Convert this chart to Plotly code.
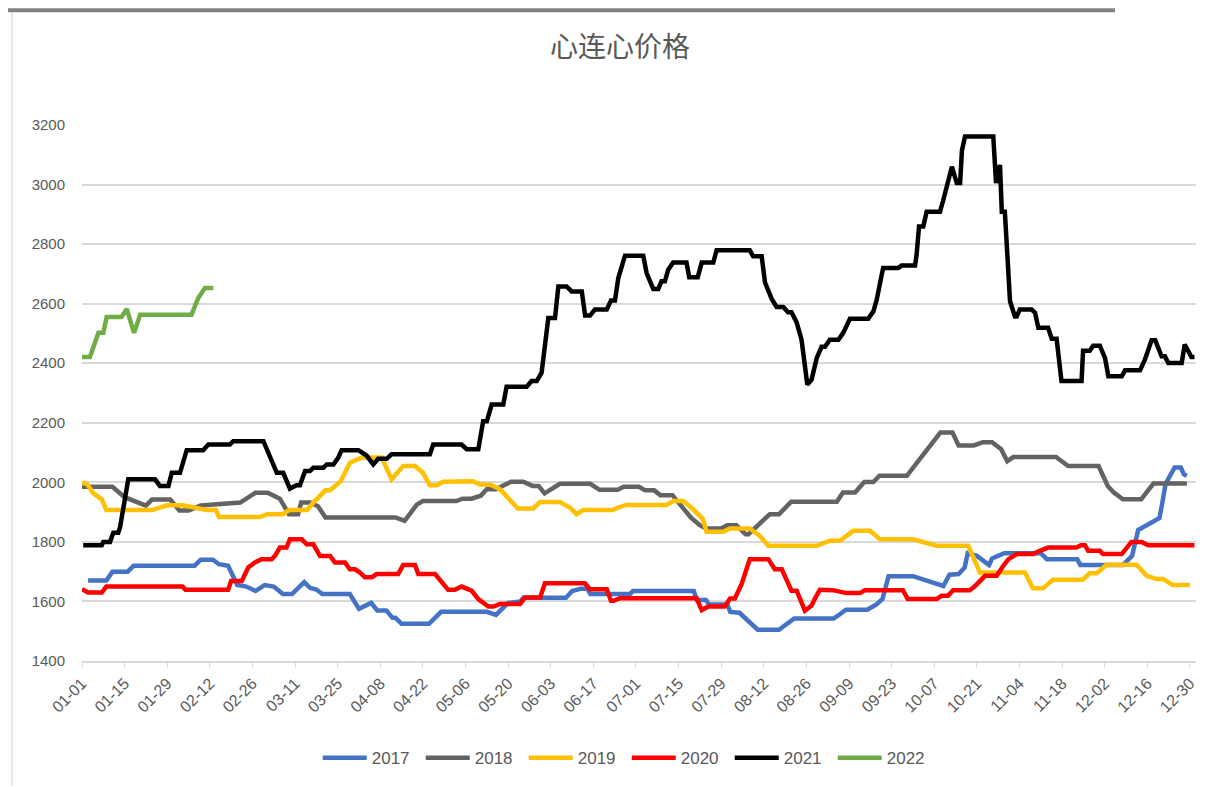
import plotly.graph_objects as go
import pandas as pd

# ---- data (day index from 01-01, price) ----
d2017 = [2, 8, 10, 15, 17, 37, 39, 43, 45, 48, 51, 54, 57, 60, 63, 66, 69, 73, 75, 77, 79, 88, 91, 95, 97, 100, 102, 103,
         105, 114, 118, 133, 136, 140, 144, 145, 159, 161, 164, 166, 167, 180, 181, 201, 202, 205, 206, 212, 213, 216,
         222, 229, 234, 247, 249, 251, 258, 261, 263, 265, 273, 283, 285, 288, 290, 291, 294, 298, 299, 303, 315, 317,
         327, 328, 342, 345, 347, 350, 354, 355, 356, 359, 361, 362, 363]
v2017 = [1670, 1670, 1700, 1700, 1720, 1720, 1740, 1740, 1725, 1720, 1655, 1650, 1635, 1655, 1650, 1625, 1625, 1665, 1645,
         1640, 1625, 1625, 1575, 1595, 1570, 1570, 1545, 1545, 1525, 1525, 1565, 1565, 1555, 1595, 1600, 1612, 1612, 1635,
         1643, 1643, 1625, 1625, 1635, 1635, 1605, 1605, 1590, 1590, 1565, 1562, 1505, 1505, 1543, 1543, 1557, 1572, 1572,
         1590, 1608, 1685, 1685, 1652, 1690, 1692, 1714, 1762, 1753, 1722, 1744, 1762, 1762, 1742, 1742, 1722, 1722, 1753,
         1840, 1858, 1880, 1935, 1995, 2050, 2050, 2027, 2022]

d2018 = [0, 10, 14, 21, 23, 29, 32, 35, 39, 52, 57, 61, 65, 68, 71, 72, 75, 77.5, 80, 103, 106, 110, 112, 123, 125, 128,
         131, 133, 136, 141, 145, 148, 150, 152, 157, 167, 170, 176, 178, 183, 185, 188, 190, 194, 200, 203, 205, 210,
         212, 215, 218, 219, 223, 226, 229, 233, 248, 250, 254, 255, 257, 260, 262, 271, 282, 286, 288, 293, 296, 299,
         302, 304, 306, 320, 324, 334, 337, 339, 342, 348, 352, 363]
v2018 = [1985, 1985, 1950, 1922, 1942, 1942, 1905, 1905, 1922, 1932, 1965, 1965, 1945, 1893, 1893, 1932, 1932, 1920, 1882,
         1882, 1871, 1925, 1937, 1937, 1945, 1945, 1955, 1977, 1977, 2002, 2002, 1988, 1988, 1963, 1995, 1995, 1975, 1975,
         1985, 1985, 1973, 1973, 1957, 1957, 1882, 1856, 1845, 1845, 1856, 1856, 1826, 1826, 1865, 1893, 1893, 1935, 1935,
         1966, 1966, 1977, 2001, 2001, 2022, 2022, 2167, 2167, 2124, 2124, 2135, 2135, 2111, 2071, 2085, 2085, 2055, 2055,
         1988, 1966, 1943, 1943, 1996, 1996]

d2019 = [0, 1, 2, 3.7, 6.5, 8, 23, 28, 33, 41, 44, 45, 58.5, 61, 66, 68, 74, 76, 80, 81.5, 85, 88, 92, 98.5, 101.7, 105.5,
         109.4, 112, 114.3, 116.5, 118.6, 128.4, 130.7, 134, 137.3, 140.6, 143.2, 148.2, 150.5, 157, 160.3, 162.5, 164.6,
         174.4, 176, 178.9, 192, 194.3, 197.5, 200.8, 204, 205.2, 210.7, 212.9, 219.4, 222.7, 225.5, 241.4, 245.7, 249,
         253.4, 258.9, 262.2, 273.1, 280.8, 291.2, 295, 309.8, 310.8, 312.4, 315.7, 319, 328.8, 331.1, 333.4, 336.6, 346.5,
         349.8, 353.1, 355.2, 358.4, 364]
v2019 = [1995, 1998, 1990, 1963, 1943, 1907, 1907, 1923, 1923, 1907, 1907, 1884, 1884, 1893, 1893, 1907, 1907, 1932, 1973,
         1973, 2004, 2066, 2083, 2083, 2010, 2055, 2055, 2032, 1990, 1990, 2002, 2004, 1993, 1993, 1977, 1943, 1912, 1912,
         1934, 1934, 1915, 1893, 1907, 1907, 1915, 1924, 1924, 1937, 1937, 1910, 1876, 1834, 1834, 1845, 1845, 1820, 1787,
         1787, 1804, 1804, 1837, 1837, 1809, 1809, 1787, 1787, 1697, 1697, 1675, 1644, 1644, 1673, 1673, 1695, 1695, 1723,
         1723, 1686, 1675, 1675, 1655, 1655]

d2020 = [0, 2, 6.5, 8, 33, 34, 48, 49, 52.5, 54.6, 56.8, 59, 62.3, 63.4, 65, 67.2, 68.3, 72.2, 73.8, 76, 78.2, 81.5, 83.1,
         86.4, 88, 89.7, 91.3, 93, 95.2, 96.8, 103.9, 105.5, 109.4, 110.5, 116, 118.2, 120.3, 122.5, 124.7, 128, 130.2,
         133.5, 135.1, 137.3, 143.9, 145.5, 150.5, 152.1, 165.2, 166.9, 172.4, 173.8, 174.7, 176.7, 201.9, 203.6, 205.8,
         211.2, 212.9, 214.5, 216.7, 219.4, 225.5, 227.6, 229.9, 233.1, 234.8, 237.5, 239.7, 240.8, 242.4, 246.7, 251.2,
         255.6, 257.2, 269.7, 271.3, 280.8, 282.4, 284.5, 286.2, 291.7, 293.4, 296.7, 300.5, 302.7, 304.4, 307.1, 312.5,
         314.7, 317.4, 326.7, 328.2, 329.5, 330.6, 334.4, 335.4, 341.6, 343.2, 344.8, 348.1, 350.3, 365.5]
v2020 = [1641, 1630, 1630, 1650, 1650, 1639, 1639, 1669, 1669, 1714, 1731, 1742, 1742, 1753, 1781, 1781, 1809, 1809, 1792,
         1792, 1753, 1753, 1731, 1731, 1708, 1708, 1697, 1681, 1681, 1692, 1692, 1722, 1722, 1692, 1692, 1664, 1639, 1639,
         1650, 1636, 1608, 1583, 1583, 1591, 1591, 1613, 1613, 1661, 1661, 1641, 1641, 1602, 1602, 1611, 1611, 1571, 1583,
         1583, 1610, 1610, 1658, 1742, 1742, 1708, 1708, 1636, 1636, 1569, 1586, 1610, 1639, 1638, 1628, 1628, 1638, 1638,
         1608, 1608, 1619, 1619, 1638, 1638, 1652, 1686, 1686, 1720, 1742, 1759, 1759, 1770, 1781, 1781, 1789, 1789, 1770,
         1770, 1759, 1759, 1781, 1800, 1800, 1789, 1789]

d2021 = [0.4, 6.5, 7, 9.2, 10.3, 11.9, 12.5, 13.6, 15.2, 24, 25.6, 28.4, 29.5, 32.2, 34.4, 39.8, 41.5, 48.6, 49.7, 59.6,
         61.8, 64, 66.1, 68.3, 70.5, 71.6, 73.3, 74.9, 76, 79.3, 80.4, 82.6, 84.2, 85.3, 90.8, 93.5, 95.7, 97.3, 100.1,
         101.7, 114.3, 115.4, 124.7, 126.4, 130.2, 131.8, 133, 134.6, 138.4, 139.5, 146.1, 147.7, 149.4, 151, 153.2, 155.4,
         156.5, 159.2, 160.9, 164.2, 165.3, 166.9, 168.5, 172.4, 173.8, 175.1, 176.2, 178.4, 184.4, 185.5, 187.7, 189.3,
         190.4, 191.5, 192.6, 194.2, 198.6, 199.5, 202.3, 203.6, 207.4, 208.5, 219.4, 220.5, 223.3, 224.4, 226.6, 228.2,
         230.4, 232, 233.1, 234.8, 236.4, 238.3, 239.7, 241.4, 243, 244.1, 245.7, 248.5, 250.1, 252.3, 258.3, 260, 261.1,
         263.2, 268.2, 269.3, 273.7, 274.2, 275, 276.4, 277.5, 281.9, 283, 285.8, 287.4, 288.5, 289.1, 290.1, 299.4, 300.3,
         301.6, 302.2, 303.2, 304.9, 306.5, 307.1, 308.1, 312, 313.1, 314.2, 317.4, 318.6, 320.2, 321.8, 328.4, 328.9,
         331.1, 332.2, 334.4, 336.1, 337.2, 341.6, 342.7, 347.6, 349.2, 351.4, 352.6, 354.7, 355.8, 356.9, 361.3, 362.3,
         364.5, 365.5]
v2021 = [1789, 1789, 1800, 1800, 1831, 1831, 1849, 1915, 2010, 2010, 1988, 1988, 2032, 2032, 2108, 2108, 2127, 2127, 2138,
         2138, 2088, 2032, 2032, 1979, 1990, 1990, 2038, 2038, 2049, 2049, 2060, 2060, 2083, 2108, 2108, 2090, 2060, 2079,
         2079, 2094, 2094, 2127, 2127, 2111, 2111, 2205, 2205, 2261, 2261, 2321, 2321, 2340, 2340, 2368, 2552, 2552, 2658,
         2658, 2641, 2641, 2560, 2560, 2580, 2580, 2611, 2611, 2686, 2761, 2761, 2703, 2649, 2649, 2675, 2675, 2714, 2738,
         2738, 2689, 2689, 2738, 2738, 2779, 2779, 2759, 2759, 2671, 2616, 2589, 2589, 2571, 2571, 2537, 2479, 2328, 2345,
         2418, 2455, 2455, 2479, 2479, 2502, 2549, 2549, 2574, 2613, 2720, 2720, 2728, 2728, 2764, 2859, 2859, 2909, 2909,
         2949, 3060, 3005, 3005, 3114, 3161, 3161, 3005, 3066, 2909, 2909, 2608, 2557, 2557, 2580, 2580, 2570, 2519, 2519,
         2482, 2482, 2340, 2340, 2442, 2442, 2459, 2459, 2418, 2356, 2356, 2376, 2376, 2412, 2477, 2477, 2423, 2423, 2401,
         2401, 2463, 2421, 2421]

d2022 = [0, 2.6, 5.4, 7, 8.1, 13, 14.7, 17.1, 19.1, 36, 38.2, 40.4, 43.1]
v2022 = [2421, 2421, 2502, 2502, 2555, 2555, 2582, 2502, 2563, 2563, 2619, 2653, 2653]

years = ["2017", "2018", "2019", "2020", "2021", "2022"]
colors = ["#4472C4", "#636363", "#FFC000", "#FF0000", "#000000", "#70AD47"]
series_x = [d2017, d2018, d2019, d2020, d2021, d2022]
series_y = [v2017, v2018, v2019, v2020, v2021, v2022]

tick_days = list(range(0, 365, 14))
tick_labels = list(pd.date_range("2020-01-01", periods=len(tick_days), freq="14D").strftime("%m-%d"))

fig = go.Figure()
for name, c, xs, ys in zip(years, colors, series_x, series_y):
    fig.add_trace(go.Scatter(x=xs, y=ys, name=name, mode="lines",
                             line=dict(color=c, width=4.5, shape="linear")))

# page body has an 8px margin: figure spans (8,8)-(1218,787)
PW, PH = 1114, 537
fig.update_layout(
    width=1210, height=779,
    margin=dict(l=74, r=22, t=117, b=125),
    paper_bgcolor="white", plot_bgcolor="white",
    font=dict(family="Liberation Sans, Noto Sans CJK SC", color="#595959", size=15),
    title=dict(text="心连心价格", x=0.483, xref="paper", y=1 - 39 / 779, yref="container", yanchor="middle",
               xanchor="center", font=dict(family="Noto Sans CJK SC", size=28, color="#595959")),
    legend=dict(orientation="h", x=0.489, xanchor="center", y=-0.179, yanchor="middle",
                font=dict(size=17, color="#595959"), itemwidth=44, tracegroupgap=0,
                entrywidth=44, entrywidthmode="pixels"),
    showlegend=True,
)
fig.update_xaxes(range=[0, 366], tickmode="array", tickvals=tick_days, ticktext=tick_labels,
                 tickangle=-45, showgrid=False, showline=True, linecolor="#d9d9d9", linewidth=1.5,
                 ticks="outside", ticklen=5, tickcolor="#d9d9d9", zeroline=False,
                 tickfont=dict(size=16, color="#595959"))
fig.update_yaxes(range=[1400, 3200], dtick=200, tick0=1400, showgrid=True, gridcolor="#d9d9d9", gridwidth=1.5,
                 zeroline=False, showline=False, ticks="", ticklabelstandoff=16,
                 tickfont=dict(size=15, color="#595959"))

# Window frame decorations of the screenshot
fig.add_shape(type="rect", xref="paper", yref="paper",
              x0=(0 - 82) / PW, x1=(1115 - 82) / PW, y0=1 + (125 - 12) / PH, y1=1 + (125 - 8) / PH,
              fillcolor="#808080", line=dict(width=0), layer="above")
fig.add_shape(type="line", xref="paper", yref="paper",
              x0=(12 - 82) / PW, x1=(12 - 82) / PW, y0=1 + (125 - 12) / PH, y1=-(787 - 662) / PH,
              line=dict(color="#d0d0d0", width=1))

fig.write_html("out.html")
